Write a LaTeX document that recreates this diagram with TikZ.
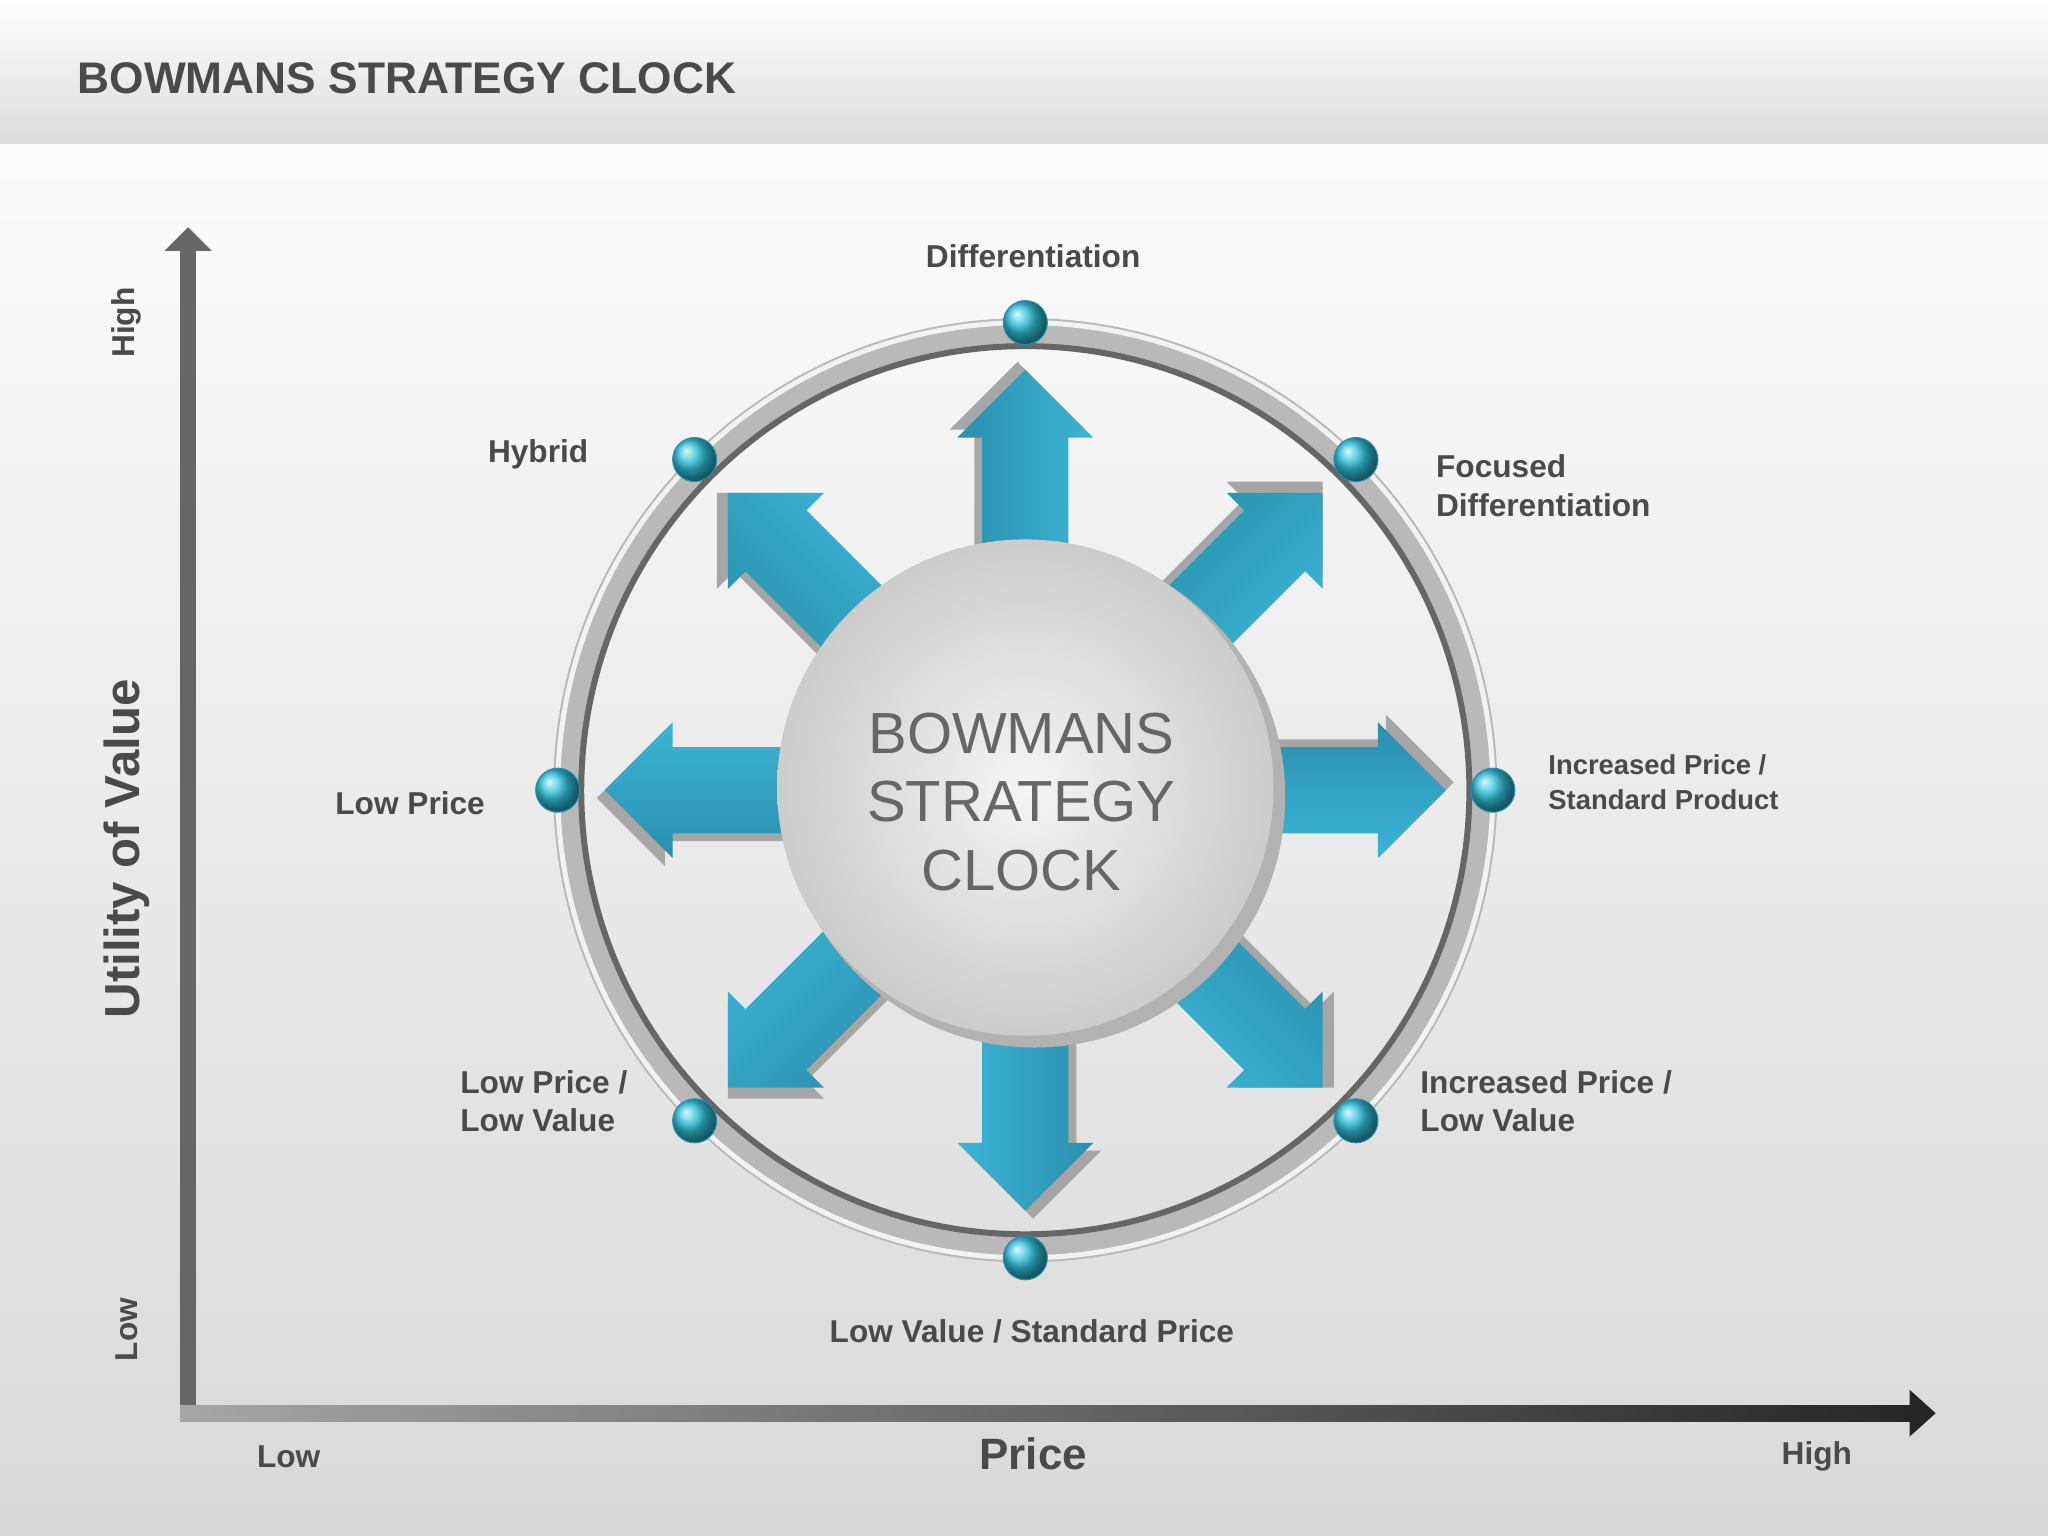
\documentclass[tikz,border=0pt]{standalone}
\usepackage{fontspec}
\setmainfont{Liberation Sans}
\usetikzlibrary{shadings,calc}
\definecolor{txt}{HTML}{4A4A4A}
\definecolor{teal1}{HTML}{2A8FAD}
\definecolor{teal2}{HTML}{3BB5D6}
\tikzset{
 lbl/.style={font=\fontsize{9}{11}\selectfont\bfseries, text=txt, align=left},
 axlbl/.style={font=\fontsize{9}{11}\selectfont\bfseries, text=txt},
 ball/.style={circle, minimum size=0.44cm, inner sep=0pt, ball color=teal2!80!cyan, draw=teal1, line width=0.3pt},
}
\begin{document}
\begin{tikzpicture}[x=0.013061cm,y=-0.013061cm]
\useasboundingbox (0,0) rectangle (1568,1176);
\shade[top color=white, bottom color=gray!30] (0,0) rectangle (1568,1176);
\shade[top color=white, bottom color=gray!28] (0,0) rectangle (1568,110);
\node[anchor=west, font=\fontsize{12.6}{14}\selectfont\bfseries, text=txt] (title) at (50,60) {BOWMANS STRATEGY CLOCK};
% axes
\coordinate (o) at (144,1082);
\coordinate (yt) at (144,175);
\coordinate (xt) at (1482,1082);
\fill[gray!80!black] (138,1088) rectangle (150,190);
\fill[gray!80!black] (126,192) -- (144,174) -- (162,192) -- cycle;
\shade[left color=gray!70, right color=gray!30!black] (138,1076) rectangle (1464,1088);
\fill[gray!30!black] (1462,1064) -- (1482,1082) -- (1462,1100) -- cycle;
\node[axlbl, rotate=90] (yh) at (97,247) {High};
\node[axlbl, rotate=90] (yl) at (97,1018) {Low};
\node[rotate=90, font=\fontsize{14}{16}\selectfont\bfseries, text=txt] (yv) at (97,650) {Utility of Value};
\node[axlbl] (xl) at (221,1115) {Low};
\node[font=\fontsize{12.5}{14}\selectfont\bfseries, text=txt] (xp) at (791,1113) {Price};
\node[axlbl] (xh) at (1391,1115) {High};
% ring
\coordinate (c) at (785,605);
\draw[gray!55, line width=0.3cm] (c) circle[radius=350];
\draw[gray!80!black, line width=0.06cm] (c) circle[radius=340];
\draw[white!90!gray, line width=0.05cm] (c) circle[radius=358];
% arrows
\foreach \a in {0,45,...,315}{
 \begin{scope}[shift={(c)}, rotate=\a]
  \fill[gray!70, shift={(6,-6)}] (150,-33) -- (270,-33) -- (270,-52) -- (322,0) -- (270,52) -- (270,33) -- (150,33) -- cycle;
  \shade[top color=teal1, bottom color=teal2, shading angle=\a] (150,-33) -- (270,-33) -- (270,-52) -- (322,0) -- (270,52) -- (270,33) -- (150,33) -- cycle;
 \end{scope}
}
% inner circle
\fill[gray!60] (792,610) circle[radius=192];
\shade[inner color=gray!8, outer color=gray!40] (785,603) circle[radius=190];
\node[align=center, font=\fontsize{16.5}{19.5}\selectfont, text=gray!80!black] (center) at (782,614) {BOWMANS\\STRATEGY\\CLOCK};
% balls
\foreach \a [count=\i] in {0,45,...,315}{
 \node[ball] (b\i) at ($(c)+(\a:358)$) {};
}
\node[lbl] (l1) at (791,196) {Differentiation};
\node[lbl] (l2) at (412,348) {Hybrid};
\node[lbl, anchor=west] (l3) at (1090,372) {Focused\\Differentiation};
\node[lbl] (l4) at (314,615) {Low Price};
\node[lbl, anchor=west, font=\fontsize{7.8}{10}\selectfont\bfseries] (l5) at (1176,599) {Increased Price /\\Standard Product};
\node[lbl, anchor=west] (l6) at (343,843) {Low Price /\\Low Value};
\node[lbl, anchor=west] (l7) at (1078,843) {Increased Price /\\Low Value};
\node[lbl] (l8) at (790,1019) {Low Value / Standard Price};
\end{tikzpicture}
\end{document}
